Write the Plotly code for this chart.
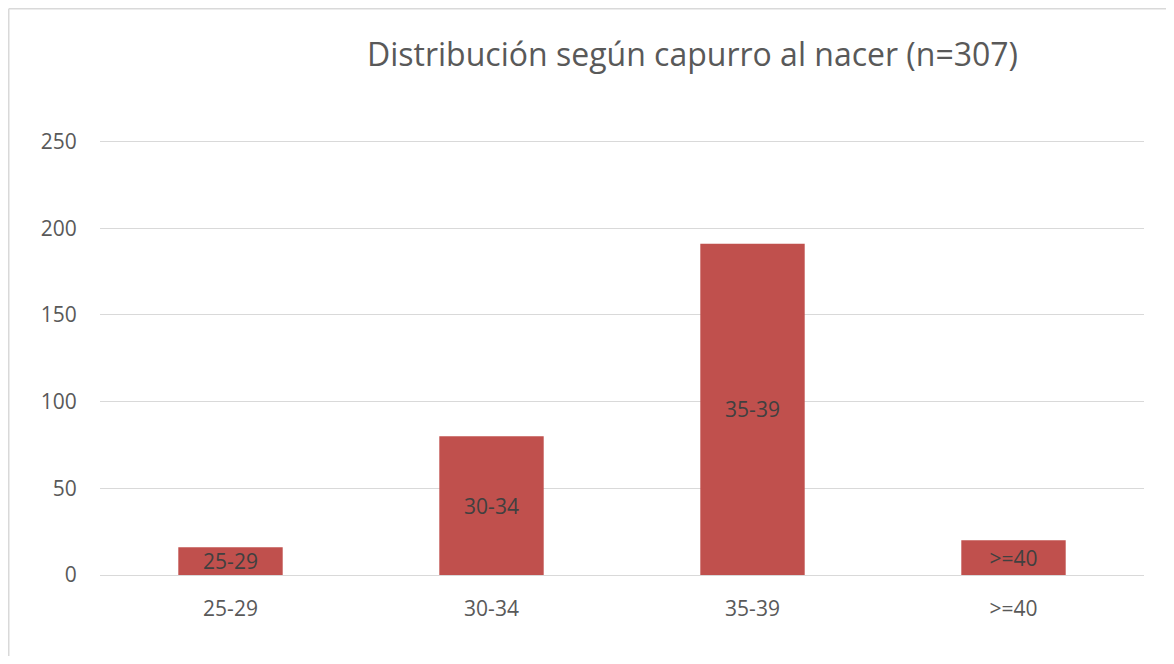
import plotly.graph_objects as go

categories = ["25-29", "30-34", "35-39", ">=40"]
values = [16, 80, 191, 20]
bar_labels = ["25-29", "30-34", "35-39", ">=40"]
title_text = "Distribución según capurro al nacer (n=307)"
y_ticks = [0, 50, 100, 150, 200, 250]
y_max = 252

# page has an 8px body margin; figure pixel = page pixel - 8
OFF = 8
W, H = 1174 - 2 * OFF, 664 - 2 * OFF
zero_px, top_tick_px = 575, 141
top_px = zero_px - (zero_px - top_tick_px) * y_max / 250
L = 100 - OFF
T = int(round(top_px - OFF))
R = W - (1144 - OFF)
B = H - (zero_px - OFF)
pw, ph = W - L - R, H - T - B

def px_x(p):
    return (p - OFF - L) / pw

def px_y(p):
    return (H - B - (p - OFF)) / ph

FONT = "Open Sans, Liberation Sans, sans-serif"
FS = 21

fig = go.Figure(go.Bar(
    x=categories, y=values, text=bar_labels,
    textposition="inside", insidetextanchor="middle",
    textfont=dict(family=FONT, size=FS, color="#404040"),
    marker=dict(color="#c0504d", line=dict(width=0)),
    width=0.4, hoverinfo="skip",
))

fig.update_layout(
    width=W, height=H, autosize=False,
    margin=dict(l=L, r=R, t=T, b=B),
    paper_bgcolor="white", plot_bgcolor="white",
    showlegend=False,
    uniformtext=dict(minsize=FS, mode="show"),
    font=dict(family=FONT, color="#595959", size=FS),
    xaxis=dict(
        showgrid=False, zeroline=False,
        showline=True, linecolor="#d9d9d9", linewidth=1.3,
        ticks="outside", ticklen=15, tickcolor="rgba(0,0,0,0)",
        tickfont=dict(size=FS, color="#595959"),
    ),
    yaxis=dict(
        range=[0, y_max], tickvals=y_ticks,
        showgrid=True, gridcolor="#d9d9d9", gridwidth=1.3,
        zeroline=False, showline=False,
        ticks="outside", ticklen=18, tickcolor="rgba(0,0,0,0)",
        tickfont=dict(size=FS, color="#595959"),
    ),
    annotations=[dict(
        text=title_text, xref="paper", yref="paper",
        x=px_x(692), y=px_y(54), xanchor="center", yanchor="middle",
        showarrow=False, font=dict(family=FONT, size=32, color="#595959"),
    )],
    shapes=[
        dict(type="line", xref="paper", yref="paper",
             x0=px_x(8.75), x1=px_x(1180), y0=px_y(8.75), y1=px_y(8.75),
             line=dict(color="#d9d9d9", width=1.5)),
        dict(type="line", xref="paper", yref="paper",
             x0=px_x(8.75), x1=px_x(8.75), y0=px_y(8.75), y1=px_y(670),
             line=dict(color="#d9d9d9", width=1.5)),
    ],
)

fig.write_html("out.html")
